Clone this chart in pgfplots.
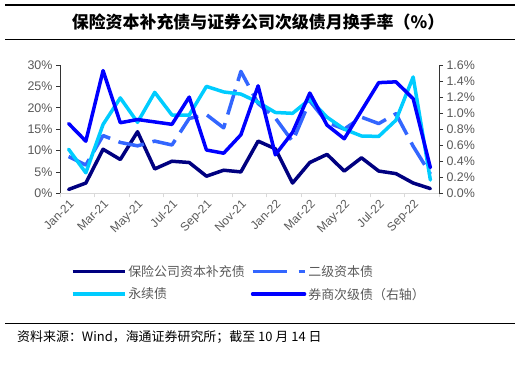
\documentclass[border=0pt]{standalone}
\usepackage{pgfplots}
\pgfplotsset{compat=1.18}
\usepackage{fontspec}
\setmainfont{Liberation Sans}
\newfontfamily\cjk{Noto Sans CJK SC}
\definecolor{cNavy}{HTML}{000080}
\definecolor{cDash}{HTML}{3366FF}
\definecolor{cCyan}{HTML}{00CCFF}
\definecolor{cBlue}{HTML}{0000FF}
\definecolor{cTxt}{HTML}{595959}
\definecolor{cAx}{HTML}{D9D9D9}
\pgfplotstableread{
i navy dash cyan blue
0 0.9 8.6 10.3 0.87
1 2.4 6.6 4.8 0.65
2 10.3 13.5 16.1 1.53
3 7.9 11.9 22.3 0.88
4 14.4 11.1 16.6 0.92
5 5.7 12.2 23.6 0.89
6 7.5 11.3 18.3 0.86
7 7.2 17.5 18.3 1.20
8 4.0 18.4 25.0 0.54
9 5.4 15.3 23.7 0.50
10 5.0 28.5 23.2 0.73
11 12.2 21.0 21.3 1.34
12 10.4 17.6 18.9 0.48
13 2.4 12.1 18.7 0.76
14 7.2 21.6 22.0 1.25
15 9.1 16.6 17.8 0.85
16 5.2 15.0 15.0 0.68
17 8.3 17.8 13.4 1.03
18 5.2 16.3 13.3 1.38
19 4.6 18.6 17.1 1.39
20 2.4 11.0 27.2 1.18
21 1.1 4.5 3.1 0.32
}\data
\begin{document}
\begin{tikzpicture}[x=1bp,y=1bp]
\path[use as bounding box] (0,0) rectangle (518,377);
\draw[line width=1.2bp] (5,372) -- (515,372);
\draw[line width=1bp] (5,338) -- (515,338);
\node[font=\cjk\bfseries\fontsize{17}{20}\selectfont] at (258,355) {保险资本补充债与证券公司次级债月换手率（\%）};
\begin{axis}[
  at={(60bp,183.7bp)}, anchor=south west,
  scale only axis, width=379bp, height=128.3bp,
  xmin=-0.5, xmax=21.5, ymin=0, ymax=30,
  axis y line*=left, axis x line*=bottom,
  x axis line style={draw=cAx, line width=0.8bp},
  y axis line style={draw=black!80, line width=0.8bp},
  xtick={0,2,...,20},
  xticklabels={Jan-21,Mar-21,May-21,Jul-21,Sep-21,Nov-21,Jan-22,Mar-22,May-22,Jul-22,Sep-22},
  major x tick style={draw=none},
  minor xtick={-0.5,1.5,...,21.5},
  minor x tick style={draw=cAx, line width=0.8bp},
  minor tick length=4bp,
  major tick length=4bp,
  tick align=outside,
  ytick={0,5,...,30},
  yticklabels={0\%,5\%,10\%,15\%,20\%,25\%,30\%},
  y tick style={draw=black!80, line width=0.8bp},
  x tick label style={rotate=45, anchor=north east, font=\fontsize{12}{14}\selectfont, text=cTxt, inner sep=1bp},
  y tick label style={font=\fontsize{12.5}{14}\selectfont, text=cTxt},
  clip=false,
]
\addplot[cNavy, line width=3.5bp, line join=round, line cap=round] table[x=i,y=navy]{\data};
\addplot[cDash, line width=3.5bp, line join=round, dash pattern=on 26bp off 9bp] table[x=i,y=dash]{\data};
\addplot[cCyan, line width=3.5bp, line join=round, line cap=round] table[x=i,y=cyan]{\data};
\end{axis}
\begin{axis}[
  at={(60bp,183.7bp)}, anchor=south west,
  scale only axis, width=379bp, height=128.3bp,
  xmin=-0.5, xmax=21.5, ymin=0, ymax=1.6,
  axis y line*=right, axis x line=none,
  y axis line style={draw=black!80, line width=0.8bp},
  tick align=outside, major tick length=4bp,
  ytick={0,0.2,...,1.6},
  yticklabels={0.0\%,0.2\%,0.4\%,0.6\%,0.8\%,1.0\%,1.2\%,1.4\%,1.6\%},
  y tick style={draw=black!80, line width=0.8bp},
  y tick label style={font=\fontsize{12.5}{14}\selectfont, text=cTxt},
  legend columns=2,
  legend style={at={(0.02,-0.53)}, anchor=north west, draw=none, fill=none,
    font=\cjk\fontsize{13}{15}\selectfont, text=cTxt,
    /tikz/every even column/.append style={column sep=4bp},
    row sep=6bp},
  legend image code/.code={\draw[#1] (0bp,0bp) -- (52bp,0bp);},
  legend cell align=left,
]
\addlegendimage{cNavy, line width=3.5bp}
\addlegendentry{保险公司资本补充债}
\addlegendimage{cDash, line width=3.5bp, dash pattern=on 34bp off 12bp}
\addlegendentry{二级资本债}
\addlegendimage{cCyan, line width=3.5bp}
\addlegendentry{永续债}
\addplot[cBlue, line width=3.5bp, line join=round, line cap=round] table[x=i,y=blue]{\data};
\addlegendentry{券商次级债（右轴）}
\end{axis}
\draw[line width=0.9bp] (5,54) -- (515,54);
\node[anchor=west, font=\cjk\fontsize{13}{15}\selectfont, inner sep=0pt] at (17,40) {资料来源：Wind，海通证券研究所；截至 10 月 14 日};
\end{tikzpicture}
\end{document}
